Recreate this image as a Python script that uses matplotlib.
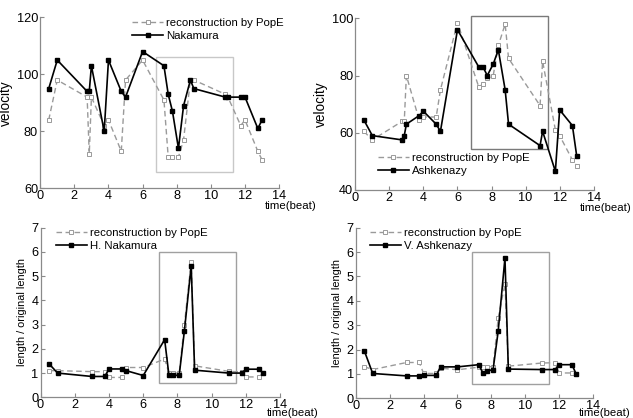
import matplotlib
matplotlib.use("Agg")
import matplotlib.pyplot as plt
from matplotlib.patches import Rectangle

plt.rcParams['font.family'] = ['Liberation Sans', 'DejaVu Sans']

# beat positions
t_vel = [0.5, 1, 2.75, 2.875, 3, 3.75, 4, 4.75, 5, 6, 7.25, 7.5, 7.75, 8.1, 8.4,
         8.8, 9, 10.85, 11, 11.75, 12, 12.75, 13]
t_len = [0.5, 1, 3, 3.75, 4, 4.75, 5, 6, 7.25, 7.5, 7.75, 8.1, 8.4, 8.8, 9,
         11, 11.75, 12, 12.75, 13]

# velocity
nakamura_vel = [95, 105, 94, 94, 103, 80, 105, 94, 92, 108, 103, 93, 87, 74, 89,
                98, 95, 92, 92, 92, 92, 81, 84]
nakamura_vel_rec = [84, 98, 92, 72, 92, 82, 84, 73, 98, 105, 91, 71, 71, 71, 77,
                    98, 98, 93, 92, 82, 84, 73, 70]
ashkenazy_vel = [64.5, 59, 57.5, 59, 63, 66, 67.5, 63, 60.5, 96, 83, 83, 80, 84, 89,
                 75, 63, 55.5, 60.5, 46.5, 68, 62.5, 52]
ashkenazy_vel_rec = [60.5, 57.5, 64, 64, 80, 64.5, 65.5, 65.5, 75, 98.5, 76, 77, 79, 80,
                     90.5, 98, 86, 69.5, 85, 61, 59, 50.5, 48.5]

# length ratio
nakamura_len = [1.38, 1.0, 0.86, 0.86, 1.17, 1.17, 1.1, 0.9, 2.38, 0.91, 0.91, 0.91,
                2.72, 5.42, 1.12, 1.0, 1.0, 1.16, 1.16, 1.0]
nakamura_len_rec = [1.1, 1.1, 1.06, 1.06, 0.82, 0.82, 1.23, 1.23, 1.58, 1.0, 1.0, 1.0,
                    2.98, 5.6, 1.3, 1.07, 1.05, 0.84, 0.84, 1.0]
ashkenazy_len = [1.96, 1.02, 0.92, 0.92, 0.94, 0.94, 1.29, 1.29, 1.38, 1.04, 1.12, 1.18,
                 2.75, 5.76, 1.2, 1.18, 1.18, 1.38, 1.38, 1.0]
ashkenazy_len_rec = [1.3, 1.18, 1.47, 1.47, 1.02, 1.02, 1.24, 1.17, 1.28, 1.3, 1.3, 1.3,
                     3.28, 4.7, 1.32, 1.45, 1.46, 1.04, 1.04, 1.0]

fig = plt.figure(figsize=(6.33, 4.18), dpi=100)

GRAY = '#9a9a9a'
TICK_FS = 9.2
LEG_FS = 8.2


def panel(rect, t, perf, rec, name, ylim, yticks, ylabel, ylab_fs, box, boxcolor,
          leg_anchor, xlab_y):
    ax = fig.add_axes(rect)
    ax.plot(t, rec, linestyle=(0, (4, 2.5)), color=GRAY, lw=1.0, marker='s', ms=2.5,
            mfc='white', mec=GRAY, mew=0.7, label='reconstruction by PopE', zorder=3)
    ax.plot(t, perf, '-', color='black', lw=1.2, marker='s', ms=2.3,
            mfc='black', mec='black', label=name, zorder=4)
    ax.add_patch(Rectangle((box[0], box[1]), box[2] - box[0], box[3] - box[1],
                           fill=False, edgecolor=boxcolor, lw=1.0, zorder=2,
                           clip_on=False))
    ax.set_xlim(0, 14)
    ax.set_ylim(*ylim)
    ax.set_xticks([0, 2, 4, 6, 8, 10, 12, 14])
    ax.set_yticks(yticks)
    for s in ['top', 'right']:
        ax.spines[s].set_visible(False)
    for s in ['left', 'bottom']:
        ax.spines[s].set_color('#8a8a8a')
        ax.spines[s].set_linewidth(0.9)
    ax.tick_params(direction='in', length=3, width=0.8, color='#8a8a8a',
                   labelsize=TICK_FS, pad=1.5)
    ax.set_ylabel(ylabel, fontsize=ylab_fs, labelpad=3)
    ax.text(1.05, xlab_y, 'time(beat)', transform=ax.transAxes, ha='center',
            va='center', fontsize=8.2)
    ax.legend(loc='upper left', bbox_to_anchor=leg_anchor, frameon=False,
              fontsize=LEG_FS, numpoints=1, handlelength=2.7, handletextpad=0.3,
              labelspacing=0.25, borderaxespad=0, borderpad=0)
    return ax


panel([0.0635, 0.5495, 0.3775, 0.409], t_vel, nakamura_vel, nakamura_vel_rec, 'Nakamura',
      (60, 120), [60, 80, 100, 120], 'velocity', 9.8, (6.8, 65.6, 11.3, 106.2), '#c8c8c8',
      (0.385, 0.995), -0.105)
panel([0.5613, 0.5455, 0.3766, 0.4107], t_vel, ashkenazy_vel, ashkenazy_vel_rec, 'Ashkenazy',
      (40, 100), [40, 60, 80, 100], 'velocity', 9.8, (6.8, 54.3, 11.3, 100.8), '#7a7a7a',
      (0.095, 0.215), -0.105)
panel([0.064, 0.0495, 0.3787, 0.4058], t_len, nakamura_len, nakamura_len_rec, 'H. Nakamura',
      (0, 7), list(range(8)), 'length / original length', 7.9, (6.9, 0.6, 11.4, 6.0),
      '#a0a0a0', (0.065, 1.0), -0.09)
panel([0.562, 0.0471, 0.375, 0.408], t_len, ashkenazy_len, ashkenazy_len_rec, 'V. Ashkenazy',
      (0, 7), list(range(8)), 'length / original length', 7.9, (6.87, 0.6, 11.4, 6.0),
      '#a0a0a0', (0.06, 1.0), -0.085)

fig.savefig('out.png', dpi=100)
